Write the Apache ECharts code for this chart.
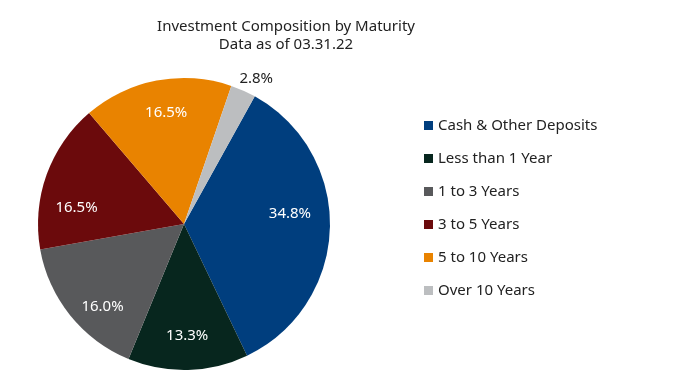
<!DOCTYPE html>
<html>
<head>
<meta charset="utf-8">
<script src="https://cdn.jsdelivr.net/npm/echarts@6/dist/echarts.min.js"></script>
<style>html,body{margin:0;padding:0;background:#fff}#c{width:686px;height:389px}</style>
</head>
<body>
<div id="c"></div>
<script>
const categories = ['Cash & Other Deposits', 'Less than 1 Year', '1 to 3 Years', '3 to 5 Years', '5 to 10 Years', 'Over 10 Years'];
const values = [34.8, 13.3, 16.0, 16.5, 16.5, 2.8];
const colors = ['#003E7E', '#07261E', '#58595B', '#6B0A0C', '#E98300', '#BCBEC0'];
const titleLines = ['Investment Composition by Maturity', 'Data as of 03.31.22'];

// label nudges (style only), mimicking the spreadsheet's "best fit" label placement
const labelNudge = [[-5, -14], [0, 1], [5, 13], [-3, 21], [3, -2], [4, 8]];

const FONT = 'Noto Sans';
const cx = 184, cy = 224, R = 146;
const chart = echarts.init(document.getElementById('c'), null, {renderer: 'canvas'});

const baseData = categories.map((n, i) => ({name: n, value: values[i], itemStyle: {color: colors[i]}}));
const insideData = categories.map((n, i) => ({name: n, value: values[i], label: {show: i !== 5, offset: labelNudge[i]}}));
const outsideData = categories.map((n, i) => ({name: n, value: values[i], label: {show: i === 5, offset: labelNudge[i]}}));
const fmt = p => p.value.toFixed(1) + '%';

chart.setOption({
  animation: false,
  title: {
    text: titleLines.join('\n'),
    left: 286, top: 18, textAlign: 'center', padding: 0,
    textStyle: {fontFamily: FONT, fontSize: 15, fontWeight: 'normal', color: '#222', lineHeight: 18}
  },
  legend: {
    orient: 'vertical', left: 424, top: 118, padding: 0,
    itemWidth: 9, itemHeight: 9, itemGap: 18, icon: 'rect',
    data: categories,
    textStyle: {fontFamily: FONT, fontSize: 15, color: '#222'}
  },
  series: [
    {
      type: 'pie', center: [cx, cy], radius: [0, R], startAngle: 61, clockwise: true,
      label: {show: false}, labelLine: {show: false},
      itemStyle: {borderWidth: 0},
      data: baseData
    },
    {
      type: 'pie', center: [cx, cy], radius: [70, R], startAngle: 61, clockwise: true, silent: true,
      itemStyle: {color: 'rgba(0,0,0,0)'}, labelLine: {show: false},
      label: {position: 'inside', formatter: fmt, color: '#fff', fontFamily: FONT, fontSize: 15},
      emphasis: {disabled: true},
      data: insideData
    },
    {
      type: 'pie', center: [cx, cy], radius: [R, 184], startAngle: 61, clockwise: true, silent: true,
      itemStyle: {color: 'rgba(0,0,0,0)'}, labelLine: {show: false},
      label: {position: 'inside', formatter: fmt, color: '#222', fontFamily: FONT, fontSize: 15},
      emphasis: {disabled: true},
      data: outsideData
    }
  ]
});
</script>
</body>
</html>
